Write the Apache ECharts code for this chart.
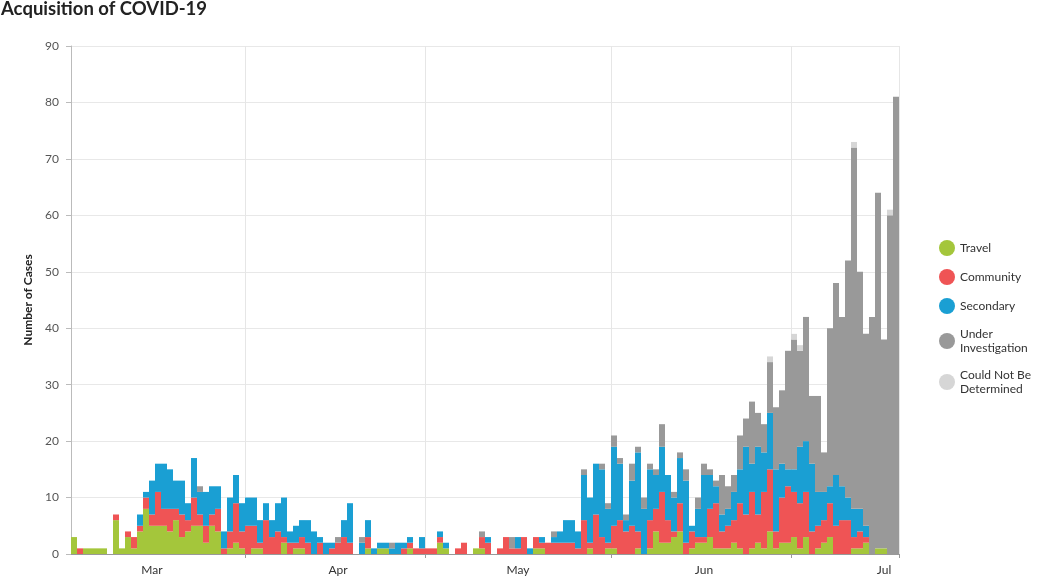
<!DOCTYPE html>
<html><head><meta charset="utf-8">
<script src="https://cdn.jsdelivr.net/npm/echarts@6/dist/echarts.min.js"></script>
<style>html,body{margin:0;padding:0;background:#fff}#c{width:1047px;height:588px}</style>
</head><body><div id="c"></div>
<script>
// Daily categories: Mar 3 – Jul 18
const startDate = '2020-03-03';
const endDate = '2020-07-18';
const monthNames = ['Jan','Feb','Mar','Apr','May','Jun','Jul','Aug'];
const seriesNames = ['Travel','Community','Secondary','Under Investigation','Could Not Be Determined'];

// Mar 3–31 (29), Apr (30), May (31), Jun (30), Jul 1–18 (18)
const travel = [
  3,0,1,1,1,1,0,6,1,3,1,4,8,5,5,5,4,6,3,4,5,5,2,5,4,0,1,2,1,
  0,1,1,0,0,0,2,0,1,1,0,0,0,0,0,0,0,0,0,0,1,0,1,1,0,0,0,1,0,0,
  0,0,2,1,0,0,0,0,1,1,0,0,0,0,0,0,0,0,1,1,0,0,0,0,0,0,0,1,0,0,1,
  1,0,0,0,1,0,1,4,2,2,3,4,0,1,2,2,3,1,1,1,2,1,0,1,2,1,4,1,2,2,
  3,1,3,0,1,2,3,0,0,0,1,1,2,0,1,1,0,0
];
const community = [
  0,1,0,0,0,0,0,1,0,1,2,1,2,2,6,3,4,2,4,2,5,2,3,2,4,1,3,7,3,
  5,4,1,6,3,4,1,2,1,2,2,0,2,0,1,2,3,2,0,0,2,0,0,0,0,0,1,1,1,1,
  1,1,1,0,0,1,2,0,0,2,2,0,1,3,1,1,3,0,2,1,2,2,2,2,2,1,6,1,7,3,1,
  4,6,4,5,3,0,5,4,9,4,1,5,2,3,1,1,5,8,3,4,4,8,7,10,5,10,11,3,8,10,
  8,8,8,4,4,4,6,5,6,6,2,3,1,0,0,0,0,0
];
const secondary = [
  0,0,0,0,0,0,0,0,0,0,0,2,1,6,5,8,7,5,6,3,7,4,6,5,4,3,6,5,5,
  5,5,4,3,3,5,7,2,3,3,4,4,1,2,1,0,3,7,0,2,3,1,1,1,1,2,1,1,0,2,
  0,0,1,1,0,0,0,0,0,0,1,0,0,0,0,2,0,1,0,1,0,1,2,4,4,3,8,8,9,12,6,
  14,10,2,8,14,8,9,6,8,8,6,8,11,1,5,11,6,3,3,3,5,6,12,5,12,7,10,11,6,3,
  4,10,9,12,6,5,3,9,6,4,5,4,2,0,0,0,0,0
];
const underInvestigation = [
  0,0,0,0,0,0,0,0,0,0,0,0,0,0,0,0,0,0,0,0,0,1,0,0,0,0,0,0,0,
  0,0,0,0,0,0,0,0,0,0,0,0,0,0,0,1,0,0,0,1,0,0,0,0,1,0,0,0,0,0,
  0,0,0,0,0,0,0,0,0,1,0,0,0,0,2,0,0,0,0,0,0,1,0,0,0,0,1,0,0,1,1,
  2,1,1,3,1,2,1,1,4,0,1,1,2,0,2,2,1,1,7,4,3,6,5,11,6,5,9,11,13,21,
  23,17,22,12,17,7,28,34,30,42,64,42,34,42,63,37,60,81
];
const couldNotBeDetermined = [
  0,0,0,0,0,0,0,0,0,0,0,0,0,0,0,0,0,0,0,0,0,0,0,0,0,0,0,0,0,
  0,0,0,0,0,0,0,0,0,0,0,0,0,0,0,0,0,0,0,0,0,0,0,0,0,0,0,0,0,0,
  0,0,0,0,0,0,0,0,0,0,0,0,0,0,0,0,0,0,0,0,0,0,0,0,0,0,0,0,0,0,0,
  0,0,0,0,0,0,0,0,0,0,0,0,0,0,0,0,0,0,0,0,0,0,0,0,0,0,1,0,0,0,
  1,1,0,0,0,0,0,0,0,0,1,0,0,0,0,0,1,0
];
const colors = ['#a4c63b','#ef5455','#1a9fd3','#999999','#d6d6d6'];

const categories = [];
for (let d = new Date(startDate + 'T00:00:00Z'); d <= new Date(endDate + 'T00:00:00Z'); d.setUTCDate(d.getUTCDate() + 1)) {
  categories.push(monthNames[d.getUTCMonth()] + ' ' + d.getUTCDate());
}
const isMonthStart = (i, v) => v.split(' ')[1] === '1';
const isMidMonth = (i, v) => v.split(' ')[1] === '16';

const seriesData = [travel, community, secondary, underInvestigation, couldNotBeDetermined];
const font = 'Lato, "Open Sans", sans-serif';

const chart = echarts.init(document.getElementById('c'), null, {renderer: 'canvas'});
chart.setOption({
  animation: false,
  color: colors,
  textStyle: {fontFamily: font},
  title: {
    text: 'Acquisition of COVID-19', left: 1, top: 0, padding: 0,
    textStyle: {fontFamily: font, fontSize: 18.5, fontWeight: 'bold', color: '#222'}
  },
  legend: {
    orient: 'vertical', left: 934, top: 235,
    icon: 'circle', itemWidth: 16, itemHeight: 16, itemGap: 13,
    data: seriesNames,
    formatter: n => n === 'Under Investigation' ? 'Under\nInvestigation' : (n === 'Could Not Be Determined' ? 'Could Not Be\nDetermined' : n),
    textStyle: {fontFamily: font, fontSize: 12, color: '#333', lineHeight: 14}
  },
  grid: {left: 71, right: 148, top: 46, bottom: 34},
  xAxis: {
    type: 'category', data: categories, boundaryGap: true,
    axisLine: {lineStyle: {color: '#999', width: 1}},
    axisTick: {show: true, interval: isMonthStart, length: 4, lineStyle: {color: '#999'}},
    axisLabel: {interval: isMidMonth, formatter: v => v.split(' ')[0], color: '#333', fontSize: 12, margin: 10, fontFamily: font},
    splitLine: {show: true, interval: isMonthStart, lineStyle: {color: '#e6e6e6'}}
  },
  yAxis: {
    type: 'value', min: 0, max: 90, interval: 10,
    name: 'Number of Cases', nameLocation: 'middle', nameGap: 34,
    nameTextStyle: {fontFamily: font, fontSize: 12, fontWeight: 'bold', color: '#222'},
    axisLine: {show: true, lineStyle: {color: '#bbb'}},
    axisTick: {show: true, length: 5, lineStyle: {color: '#bbb'}},
    axisLabel: {color: '#555', fontSize: 12, margin: 12, fontFamily: font},
    splitLine: {lineStyle: {color: '#e8e8e8'}}
  },
  series: seriesNames.map((name, k) => ({
    name, type: 'bar', stack: 'total', data: seriesData[k],
    barCategoryGap: '0%', barGap: '0%',
    itemStyle: {color: colors[k]},
    emphasis: {disabled: true}
  }))
});
</script>
</body></html>
